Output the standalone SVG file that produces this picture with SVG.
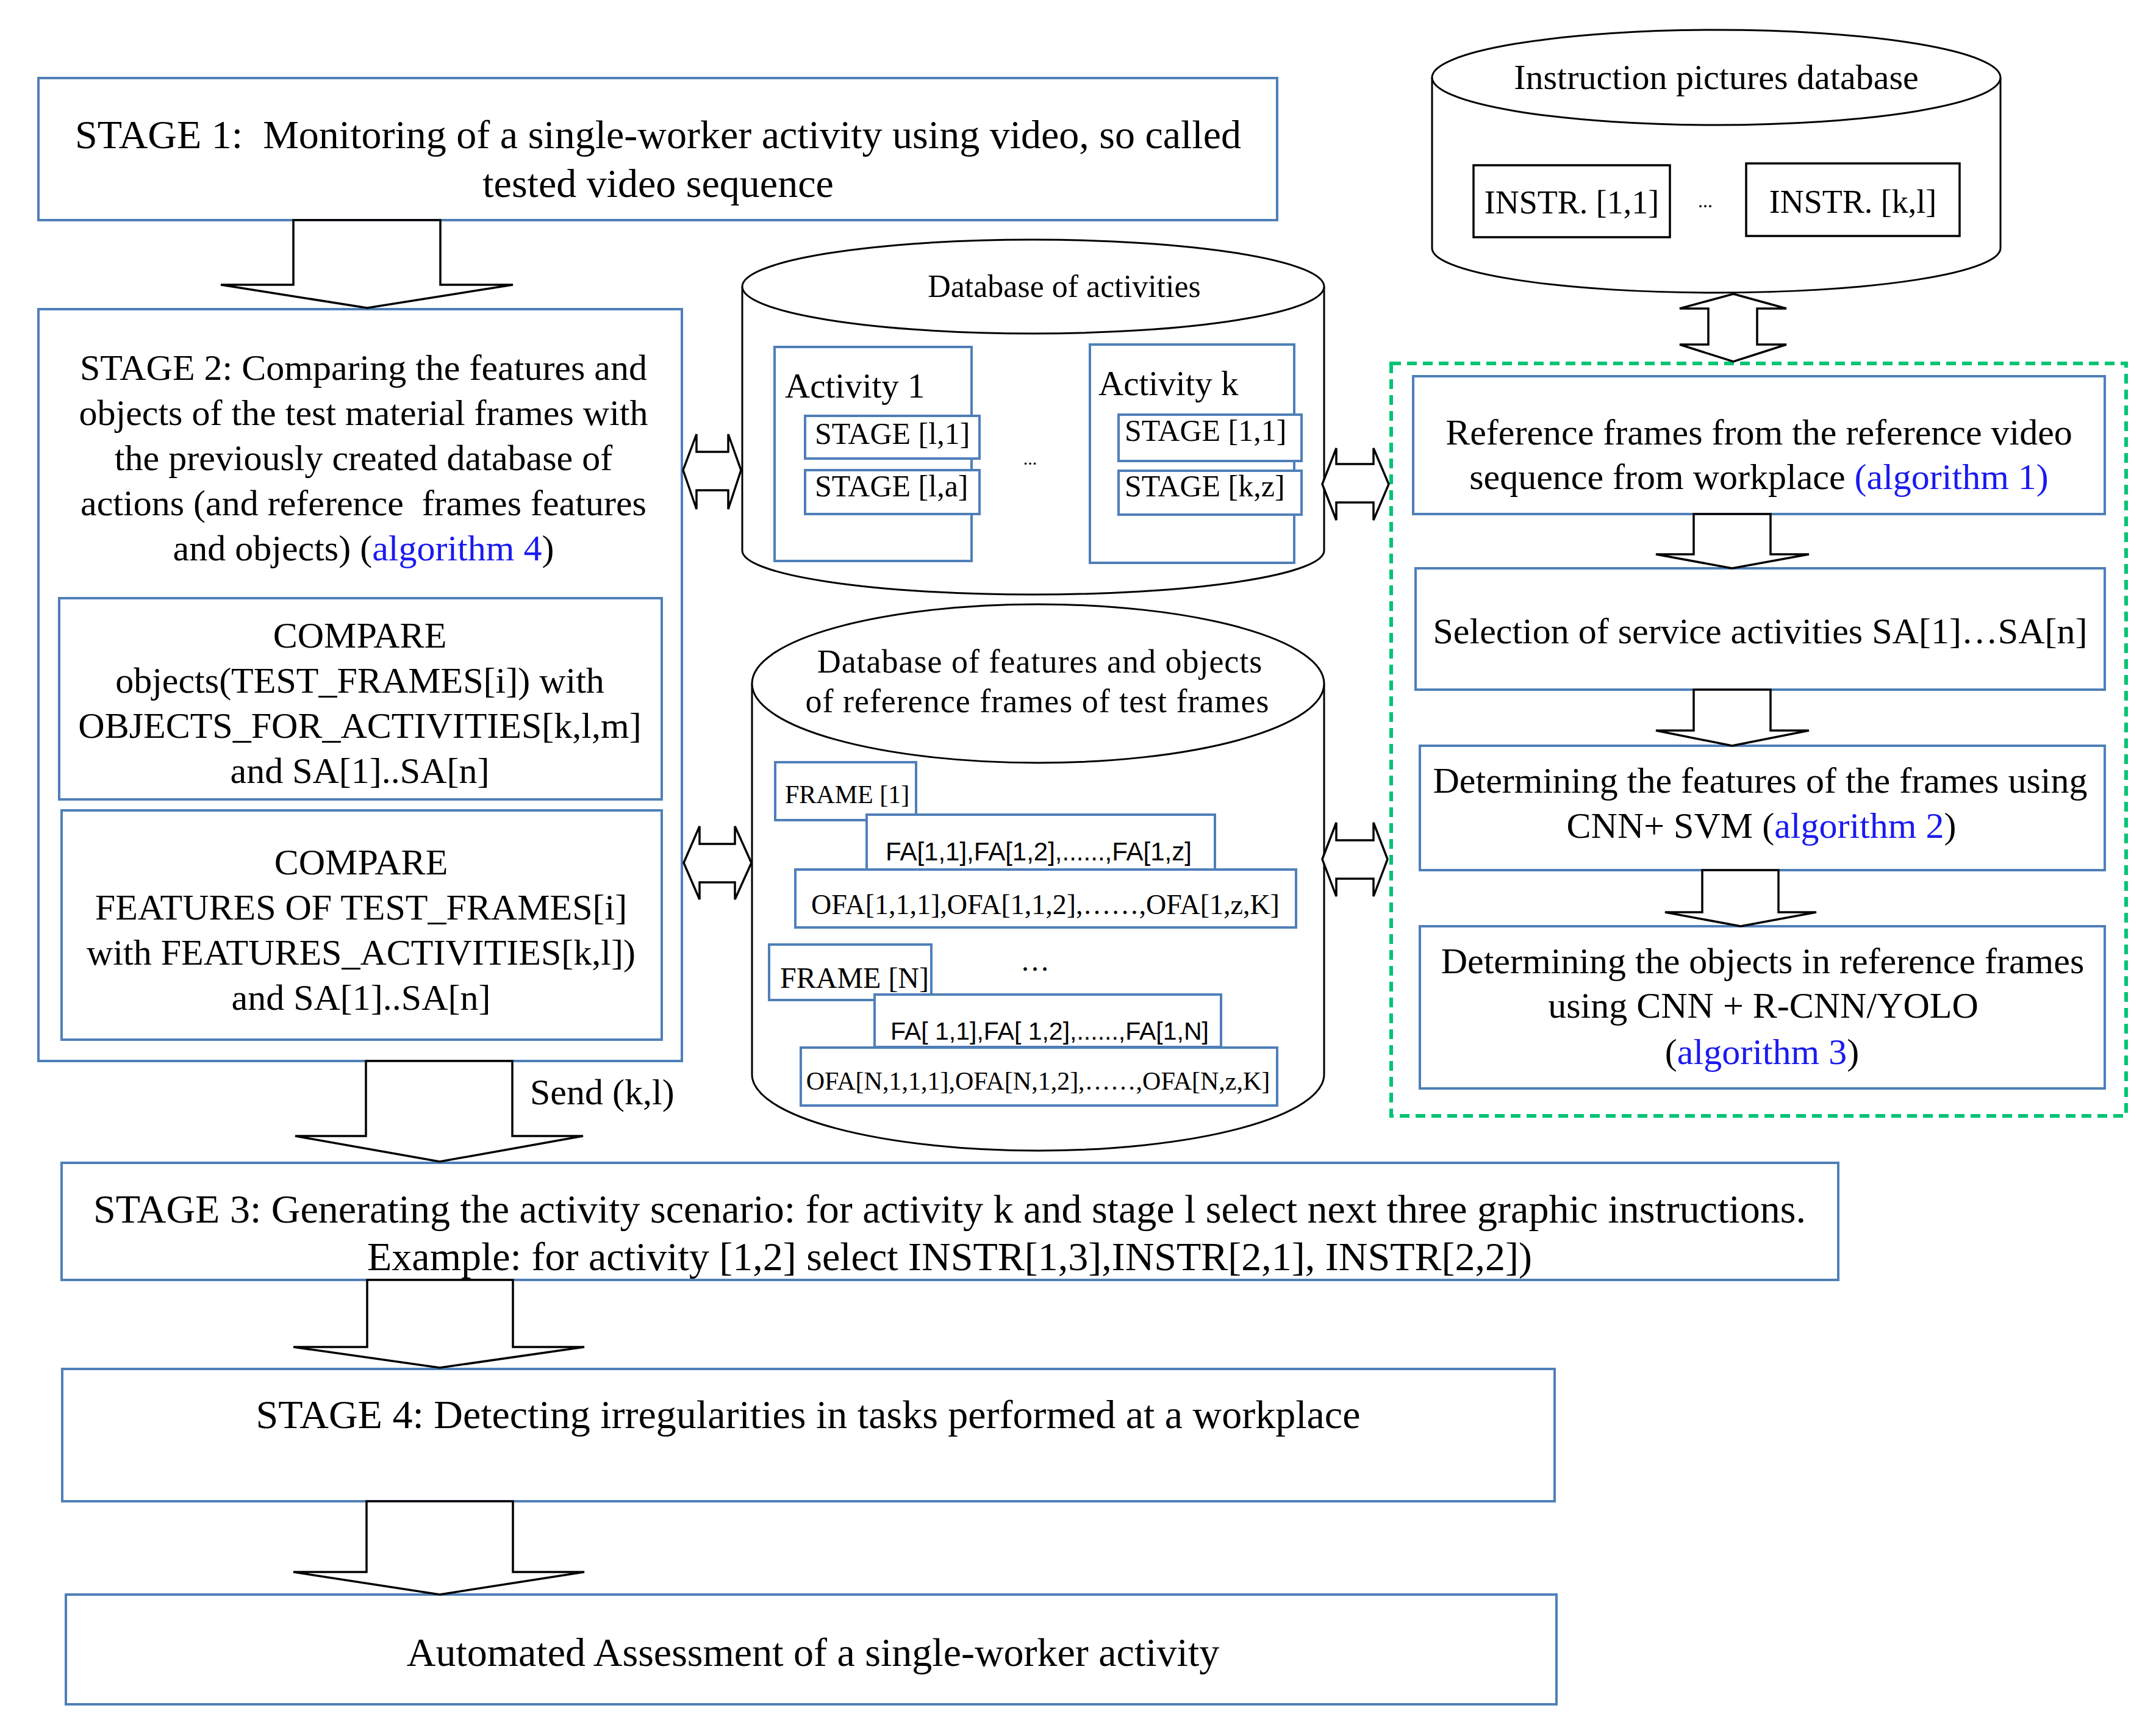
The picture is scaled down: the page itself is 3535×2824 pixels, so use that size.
<svg xmlns="http://www.w3.org/2000/svg" width="3535" height="2824" viewBox="0 0 3535 2824">
<style>
.box{fill:#fff;stroke:#4F7FB8;stroke-width:4}
.kbox{fill:#fff;stroke:#000;stroke-width:3.5}
.cyl{fill:#fff;stroke:#000;stroke-width:3}
.arr{fill:#fff;stroke:#000;stroke-width:3.5;stroke-linejoin:miter}
.dash{fill:none;stroke:#00C474;stroke-width:6;stroke-dasharray:16 10}
text{font-family:"Liberation Serif","Times New Roman",serif;fill:#000}
.c{text-anchor:middle}
.s{font-family:"Liberation Sans",Arial,sans-serif}
.b{fill:#1A1AF0}
.f66{font-size:66px}
.f60{font-size:60px}
.pre{white-space:pre}
</style>
<rect width="3535" height="2824" fill="#fff"/>

<g id="stage1">
<rect class="box" x="63" y="128" width="2031" height="233"/>
<text class="c f66 pre" x="1079" y="243">STAGE 1:  Monitoring of a single-worker activity using video, so called</text>
<text class="c f66" x="1079" y="323">tested video sequence</text>
</g>

<g id="stage2">
<rect class="box" x="63" y="507" width="1055" height="1233"/>
<text class="c f60" x="596" y="623">STAGE 2: Comparing the features and</text>
<text class="c f60" x="596" y="697">objects of the test material frames with</text>
<text class="c f60" x="596" y="771">the previously created database of</text>
<text class="c f60 pre" x="596" y="845">actions (and reference  frames features</text>
<text class="c f60" x="596" y="919">and objects) (<tspan class="b">algorithm 4</tspan>)</text>
</g>

<g id="compare1">
<rect class="box" x="97" y="981" width="988" height="330"/>
<text class="c f60" x="590" y="1062">COMPARE</text>
<text class="c f60" x="590" y="1136">objects(TEST_FRAMES[i]) with</text>
<text class="c f60" x="590" y="1210">OBJECTS_FOR_ACTIVITIES[k,l,m]</text>
<text class="c f60" x="590" y="1284">and SA[1]..SA[n]</text>
</g>

<g id="compare2">
<rect class="box" x="101" y="1329" width="984" height="376"/>
<text class="c f60" x="592" y="1434">COMPARE</text>
<text class="c f60" x="592" y="1508">FEATURES OF TEST_FRAMES[i]</text>
<text class="c f60" x="592" y="1582">with FEATURES_ACTIVITIES[k,l])</text>
<text class="c f60" x="592" y="1656">and SA[1]..SA[n]</text>
</g>

<g id="instr-db">
<path class="cyl" d="M2348,127 L2348,407 A466,73 0 0 0 3280,407 L3280,127"/>
<ellipse class="cyl" cx="2814" cy="127" rx="466" ry="78"/>
<text class="c" x="2814" y="146" font-size="58">Instruction pictures database</text>
<rect class="kbox" x="2416" y="271" width="322" height="118"/>
<text class="c" x="2577" y="350" font-size="54">INSTR. [1,1]</text>
<text class="c" x="2796" y="340" font-size="32">...</text>
<rect class="kbox" x="2863" y="268" width="350" height="119"/>
<text class="c" x="3038" y="349" font-size="54">INSTR. [k,l]</text>
</g>

<g id="activities-db">
<path class="cyl" d="M1217,470 L1217,903 A477,72 0 0 0 2171,903 L2171,470"/>
<ellipse class="cyl" cx="1694" cy="470" rx="477" ry="77"/>
<text class="c" x="1745" y="487" font-size="52">Database of activities</text>
<rect class="box" x="1270" y="569" width="323" height="351"/>
<text x="1287" y="652" font-size="57">Activity 1</text>
<rect class="box" x="1320" y="682" width="286" height="70"/>
<text x="1336" y="728" font-size="50">STAGE [l,1]</text>
<rect class="box" x="1320" y="771" width="286" height="72"/>
<text x="1336" y="814" font-size="50">STAGE [l,a]</text>
<text class="c" x="1689" y="762" font-size="30">...</text>
<rect class="box" x="1787" y="565" width="335" height="358"/>
<text x="1801" y="648" font-size="57">Activity k</text>
<rect class="box" x="1834" y="680" width="300" height="76"/>
<text x="1844" y="723" font-size="50">STAGE [1,1]</text>
<rect class="box" x="1834" y="772" width="300" height="72"/>
<text x="1844" y="814" font-size="50">STAGE [k,z]</text>
</g>

<g id="features-db">
<path class="cyl" d="M1233,1121 L1233,1762 A469,125 0 0 0 2171,1762 L2171,1121"/>
<ellipse class="cyl" cx="1702" cy="1121" rx="469" ry="130"/>
<text class="c" x="1705" y="1103" font-size="54" letter-spacing="1">Database of features and objects</text>
<text class="c" x="1701" y="1168" font-size="54" letter-spacing="1">of reference frames of test frames</text>
<rect class="box" x="1271" y="1250" width="231" height="95"/>
<text x="1287" y="1317" font-size="42">FRAME [1]</text>
<rect class="box" x="1421" y="1336" width="571" height="90"/>
<text class="c s" x="1703" y="1411" font-size="42">FA[1,1],FA[1,2],......,FA[1,z]</text>
<rect class="box" x="1304" y="1426" width="821" height="95"/>
<text class="c" x="1714" y="1499" font-size="46">OFA[1,1,1],OFA[1,1,2],……,OFA[1,z,K]</text>
<rect class="box" x="1261" y="1549" width="266" height="91"/>
<text x="1279" y="1620" font-size="48">FRAME [N]</text>
<text class="c" x="1697" y="1592" font-size="48">…</text>
<rect class="box" x="1434" y="1631" width="568" height="86"/>
<text class="c s" x="1721" y="1705" font-size="41">FA[ 1,1],FA[ 1,2],......,FA[1,N]</text>
<rect class="box" x="1313" y="1718" width="781" height="95"/>
<text class="c" x="1702" y="1787" font-size="42">OFA[N,1,1,1],OFA[N,1,2],……,OFA[N,z,K]</text>
</g>

<g id="reference-group">
<rect class="dash" x="2281" y="596" width="1205" height="1234"/>
</g>

<g id="ref-frames">
<rect class="box" x="2317" y="617" width="1134" height="226"/>
<text class="c f60" x="2884" y="729">Reference frames from the reference video</text>
<text class="c f60" x="2884" y="802">sequence from workplace <tspan class="b">(algorithm 1)</tspan></text>
</g>

<g id="selection">
<rect class="box" x="2321" y="932" width="1130" height="199"/>
<text class="c f60" x="2886" y="1055">Selection of service activities SA[1]…SA[n]</text>
</g>

<g id="features">
<rect class="box" x="2328" y="1223" width="1123" height="204"/>
<text class="c f60" x="2886" y="1300">Determining the features of the frames using</text>
<text class="c f60" x="2888" y="1374">CNN+ SVM (<tspan class="b">algorithm 2</tspan>)</text>
</g>

<g id="objects">
<rect class="box" x="2328" y="1519" width="1123" height="266"/>
<text class="c f60" x="2890" y="1596">Determining the objects in reference frames</text>
<text class="c f60" x="2891" y="1669">using CNN + R-CNN/YOLO</text>
<text class="c f60" x="2889" y="1745">(<tspan class="b">algorithm 3</tspan>)</text>
</g>

<g id="stage3">
<rect class="box" x="101" y="1907" width="2913" height="192"/>
<text class="c f66" x="1557" y="2005">STAGE 3: Generating the activity scenario: for activity k and stage l select next three graphic instructions.</text>
<text class="c f66" x="1557" y="2083">Example: for activity [1,2] select INSTR[1,3],INSTR[2,1], INSTR[2,2])</text>
</g>

<g id="stage4">
<rect class="box" x="102" y="2245" width="2447" height="217"/>
<text class="c f66" x="1325" y="2342">STAGE 4: Detecting irregularities in tasks performed at a workplace</text>
</g>

<g id="assessment">
<rect class="box" x="108" y="2615" width="2444" height="180"/>
<text class="c f66" x="1333" y="2732">Automated Assessment of a single-worker activity</text>
</g>

<g id="connectors">
<polygon class="arr" points="481,361 722,361 722,467 841,467 602,505 362,467 481,467"/>
<polygon class="arr" points="600,1740 840,1740 840,1863 956,1863 721,1905 484,1863 600,1863"/>
<text x="869" y="1811" font-size="60">Send (k,l)</text>
<polygon class="arr" points="602,2099 841,2099 841,2209 958,2209 721,2243 481,2209 602,2209"/>
<polygon class="arr" points="601,2462 841,2462 841,2578 958,2578 721,2615 481,2578 601,2578"/>
<polygon class="arr" points="2777,843 2903,843 2903,909 2966,909 2840,932 2715,909 2777,909"/>
<polygon class="arr" points="2777,1131 2903,1131 2903,1198 2966,1198 2840,1223 2715,1198 2777,1198"/>
<polygon class="arr" points="2791,1427 2916,1427 2916,1496 2978,1496 2854,1519 2730,1496 2791,1496"/>
<polygon class="arr" points="1120,771 1142,712 1142,741 1194,741 1194,712 1215,771 1194,835 1194,804 1142,804 1142,835"/>
<polygon class="arr" points="1121,1415 1147,1355 1147,1384 1205,1384 1205,1355 1232,1415 1205,1475 1205,1447 1147,1447 1147,1475"/>
<polygon class="arr" points="2168,794 2191,735 2191,761 2252,761 2252,735 2277,794 2252,853 2252,824 2191,824 2191,853"/>
<polygon class="arr" points="2168,1409 2191,1349 2191,1378 2252,1378 2252,1349 2275,1409 2252,1470 2252,1441 2191,1441 2191,1470"/>
<polygon class="arr" points="2842,482 2929,506 2881,506 2881,565 2929,565 2842,593 2754,565 2801,565 2801,506 2754,506"/>
</g>
</svg>
